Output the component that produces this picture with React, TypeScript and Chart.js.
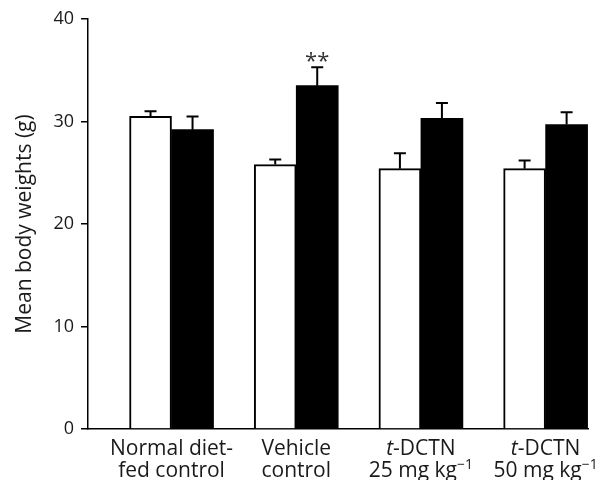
import React, { useEffect, useRef } from "react";
import { Chart, registerables } from "chart.js";

Chart.register(...registerables);

const categories: string[][] = [
  ["Normal diet-", "fed control"],
  ["Vehicle", "control"],
  ["t-DCTN", "25 mg kg⁻¹"],
  ["t-DCTN", "50 mg kg⁻¹"],
];
const groupPositions = [1, 2, 3, 4];
const whiteValues = [30.5, 25.8, 25.4, 25.4];
const whiteErrors = [0.5, 0.5, 1.5, 0.8];
const blackValues = [29.2, 33.5, 30.3, 29.7];
const blackErrors = [1.3, 1.8, 1.5, 1.2];
const blackMarks = ["", "**", "", ""];
const yTicks = [0, 10, 20, 30, 40];
const yTitle = "Mean body weights (g)";

const FONT = "'Open Sans', 'DejaVu Sans', sans-serif";
const TEXT_COLOR = "#1a1a1a";

type Seg = { text: string; italic?: boolean; sup?: boolean };

function parseLine(line: string): Seg[] {
  const segs: Seg[] = [];
  let rest = line;
  if (rest.startsWith("t-")) {
    segs.push({ text: "t", italic: true });
    rest = rest.slice(1);
  }
  const supIdx = rest.indexOf("⁻¹");
  if (supIdx >= 0) {
    segs.push({ text: rest.slice(0, supIdx) });
    segs.push({ text: "−1", sup: true });
    const after = rest.slice(supIdx + 2);
    if (after) segs.push({ text: after });
  } else {
    segs.push({ text: rest });
  }
  return segs;
}

function segFont(s: Seg, size: number) {
  const sz = s.sup ? Math.round(size * 0.65) : size;
  return `${s.italic ? "italic " : ""}${sz}px ${FONT}`;
}

const errorBarPlugin = {
  id: "errorBars",
  afterDatasetsDraw(chart: any) {
    const ctx = chart.ctx;
    const yScale = chart.scales.y;
    const errs = [whiteErrors, blackErrors];
    const vals = [whiteValues, blackValues];
    ctx.save();
    ctx.strokeStyle = "#000";
    ctx.lineWidth = 2;
    for (let d = 0; d < 2; d++) {
      const meta = chart.getDatasetMeta(d);
      meta.data.forEach((el: any, i: number) => {
        const top = yScale.getPixelForValue(vals[d][i] + errs[d][i]);
        ctx.beginPath();
        ctx.moveTo(el.x, el.y);
        ctx.lineTo(el.x, top);
        ctx.moveTo(el.x - 6, top);
        ctx.lineTo(el.x + 6, top);
        ctx.stroke();
        if (d === 1 && blackMarks[i]) {
          ctx.fillStyle = "#333";
          ctx.font = `22px ${FONT}`;
          ctx.textAlign = "center";
          ctx.textBaseline = "alphabetic";
          ctx.fillText(blackMarks[i], el.x, top + 1);
        }
      });
    }
    ctx.restore();
  },
  afterDraw(chart: any) {
    const ctx = chart.ctx;
    const xScale = chart.scales.x;
    const bottom = chart.chartArea.bottom;
    const size = 21;
    ctx.save();
    ctx.fillStyle = TEXT_COLOR;
    ctx.textBaseline = "alphabetic";
    ctx.textAlign = "left";
    categories.forEach((lines, i) => {
      const cx = xScale.getPixelForValue(groupPositions[i]);
      lines.forEach((line, li) => {
        const segs = parseLine(line);
        let total = 0;
        const widths = segs.map((s) => {
          ctx.font = segFont(s, size);
          const w = ctx.measureText(s.text).width;
          total += w;
          return w;
        });
        let x = cx - total / 2;
        const baseY = bottom + 26 + li * 22;
        segs.forEach((s, si) => {
          ctx.font = segFont(s, size);
          ctx.fillText(s.text, x, s.sup ? baseY - 8 : baseY);
          x += widths[si];
        });
      });
    });
    ctx.restore();
  },
};

export default function App() {
  const canvasRef = useRef<HTMLCanvasElement | null>(null);

  useEffect(() => {
    if (!canvasRef.current) return;
    const chart = new Chart(canvasRef.current, {
      type: "bar",
      data: {
        datasets: [
          {
            label: "white",
            data: groupPositions.map((x, i) => ({ x, y: whiteValues[i] })),
            backgroundColor: "#ffffff",
            borderColor: "#000000",
            borderWidth: 2,
            barThickness: 42,
          },
          {
            label: "black",
            data: groupPositions.map((x, i) => ({ x, y: blackValues[i] })),
            backgroundColor: "#000000",
            borderColor: "#000000",
            borderWidth: 0,
            barThickness: 42,
          },
        ],
      },
      options: {
        animation: false,
        responsive: false,
        layout: { padding: { top: 19, right: 22, left: 0, bottom: 0 } },
        plugins: { legend: { display: false }, tooltip: { enabled: false } },
        scales: {
          x: {
            type: "linear",
            offset: false,
            min: 0.33,
            max: 4.34,
            ticks: { display: false },
            grid: { display: false },
            border: { display: true, color: "#000", width: 1.5 },
            afterFit: (s: any) => {
              s.height = 51;
            },
          },
          y: {
            min: 0,
            max: 40,
            afterBuildTicks: (s: any) => {
              s.ticks = yTicks.map((v) => ({ value: v }));
            },
            ticks: {
              color: TEXT_COLOR,
              font: { family: FONT, size: 18 },
              padding: 7,
            },
            grid: {
              display: true,
              drawOnChartArea: false,
              drawTicks: true,
              tickLength: 7,
              color: "#000",
              lineWidth: 1.5,
            },
            border: { display: true, color: "#000", width: 1.5 },
            title: {
              display: true,
              text: yTitle,
              color: TEXT_COLOR,
              font: { family: FONT, size: 21 },
              padding: { top: 12, bottom: 0 },
            },
            afterFit: (s: any) => {
              s.width = 88;
            },
          },
        },
      },
      plugins: [errorBarPlugin],
    } as any);
    return () => chart.destroy();
  }, []);

  return (
    <div style={{ position: "fixed", left: 0, top: 0, width: 610, height: 480, background: "#fff" }}>
      <canvas ref={canvasRef} width={610} height={480} />
    </div>
  );
}
